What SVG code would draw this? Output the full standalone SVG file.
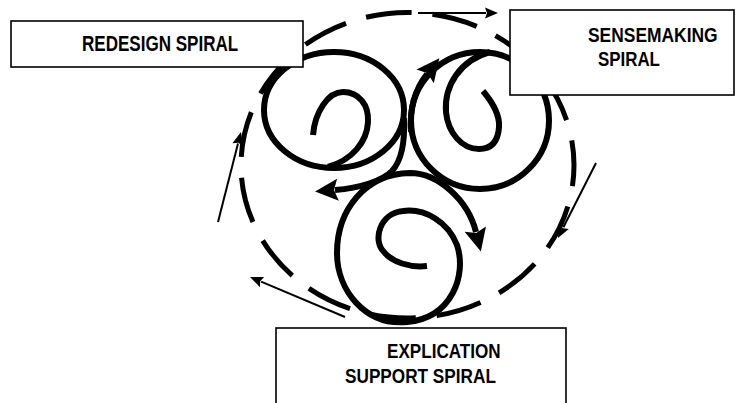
<svg xmlns="http://www.w3.org/2000/svg" width="736" height="403" viewBox="0 0 736 403">
<style>
.spiral{fill:none;stroke:#000;stroke-width:6}
.dash{fill:none;stroke:#000;stroke-width:5;stroke-dasharray:16.5 7.5;stroke-dashoffset:9}
.thin{fill:none;stroke:#000;stroke-width:2}
.box{fill:#fff;stroke:#000;stroke-width:1.6}
.lbl{font-family:"Liberation Sans",Arial,sans-serif;font-weight:bold;fill:#000;font-size:21px}
</style>
<defs>
<marker id="big" markerUnits="userSpaceOnUse" markerWidth="26" markerHeight="24" refX="3" refY="11" orient="auto" overflow="visible"><path d="M0,0 L23,11 L0,22 L4,11 Z"/></marker>
<marker id="small" markerUnits="userSpaceOnUse" markerWidth="14" markerHeight="11" refX="1" refY="5.5" orient="auto" overflow="visible"><path d="M0,0 L13,5.5 L0,11 L2,5.5 Z"/></marker>
</defs>
<g id="cycle">
<path class="dash" pathLength="360" d="M574,165.25 A166.5,152.75 0 1,1 241,165.25 A166.5,152.75 0 1,1 574,165.25"/>
</g>
<g id="redesign-spiral">
<path class="spiral" d="M313,135 C315,112 328,92 343,92 C359,92 369,105 368,122 C367,142 352,160 328,167"/>
<ellipse class="spiral" cx="334" cy="110" rx="70" ry="58"/>
<path class="spiral" marker-end="url(#big)" d="M404,118 C405,140 402,160 392,171 C382,181 360,188 335,190"/>
</g>
<g id="sensemaking-spiral">
<path class="spiral" d="M483,91 C493,103 500,115 499,127 C498,143 490,149 479,149 C462,149 448,133 446,112 C444,86 460,60 490,52"/>
<ellipse class="spiral" cx="480" cy="120.5" rx="69" ry="68.5"/>
<path class="spiral" marker-end="url(#big)" d="M411,132 C409,106 416,88 427,74"/>
</g>
<g id="explication-spiral">
<path class="spiral" marker-end="url(#big)" d="M427,266 C410,268 392,262 384,252 C372,240 380,213 403,211 C425,208 448,222 457,245 C467,275 452,318 407,322 C365,326 337,290 337,253 C337,210 365,174 410,173 C438,173 468,200 476,232"/>
</g>
<g id="connectors">
<path class="thin" marker-end="url(#small)" d="M218,222 L238,143.6"/>
<path class="thin" marker-end="url(#small)" d="M345,317 L261.1,281.7"/>
<path class="thin" marker-end="url(#small)" d="M596,163 L563.4,227.3"/>
<path class="thin" marker-end="url(#small)" d="M418,13 L486,13"/>
</g>
<g id="node-redesign">
<rect class="box" x="11" y="21" width="292" height="46"/>
<text class="lbl" style="font-size:22px" transform="translate(82,51) scale(0.775,1)">REDESIGN SPIRAL</text>
</g>
<g id="node-sensemaking">
<rect class="box" x="510" y="10" width="224" height="85"/>
<text class="lbl" transform="translate(588,42) scale(0.83,1)">SENSEMAKING</text>
<text class="lbl" transform="translate(598,66) scale(0.805,1)">SPIRAL</text>
</g>
<g id="node-explication">
<rect class="box" x="276" y="328" width="290" height="90"/>
<text class="lbl" style="font-size:20px" transform="translate(387,358) scale(0.855,1)">EXPLICATION</text>
<text class="lbl" style="font-size:20px" transform="translate(345,383) scale(0.86,1)">SUPPORT SPIRAL</text>
</g>
</svg>
